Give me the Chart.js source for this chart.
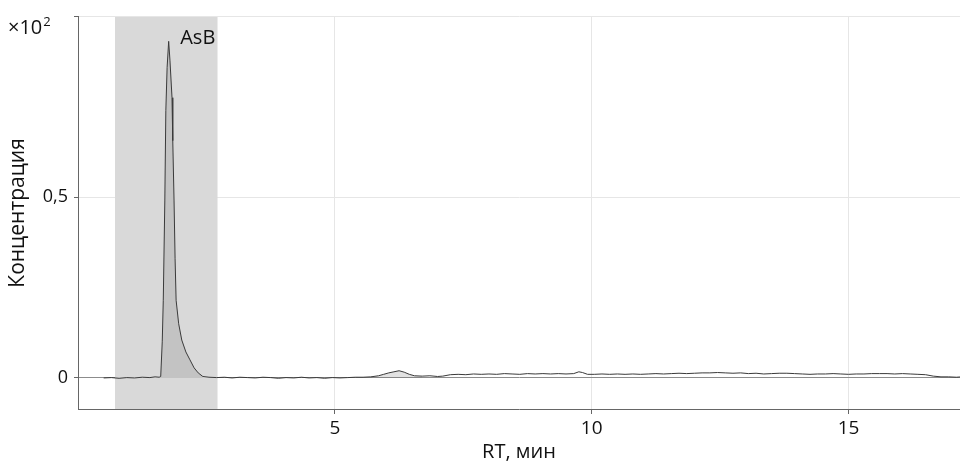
<!DOCTYPE html>
<html>
<head>
<meta charset="utf-8">
<script src="https://cdn.jsdelivr.net/npm/chart.js@4.4.1/dist/chart.umd.min.js"></script>
<style>
  html, body { margin: 0; padding: 0; background: #fff; }
  #wrap { width: 960px; height: 466px; }
</style>
</head>
<body>
<div id="wrap"><canvas id="chromChart"></canvas></div>
<script>
// retention time, min
const rtMin = [
  0.50, 0.65, 0.80, 0.95, 1.10, 1.25, 1.40, 1.50, 1.58, 1.61,
  1.64, 1.66, 1.69, 1.71, 1.735, 1.765, 1.79, 1.83, 1.845, 1.87,
  1.89, 1.91, 1.96, 2.02, 2.10, 2.18, 2.26, 2.34, 2.43, 2.55,
  2.70, 2.85, 3.00, 3.15, 3.30, 3.45, 3.60, 3.75, 3.90, 4.05,
  4.20, 4.35, 4.50, 4.65, 4.80, 4.95, 5.10, 5.25, 5.40, 5.55,
  5.70, 5.85, 5.95, 6.05, 6.15, 6.25, 6.35, 6.45, 6.55, 6.70,
  6.85, 7.00, 7.10, 7.25, 7.40, 7.55, 7.70, 7.85, 8.00, 8.15,
  8.30, 8.45, 8.60, 8.75, 8.90, 9.05, 9.20, 9.35, 9.50, 9.65,
  9.75, 9.82, 9.92, 10.05, 10.20, 10.35, 10.50, 10.65, 10.80, 10.95,
  11.10, 11.25, 11.40, 11.55, 11.70, 11.85, 12.00, 12.15, 12.30, 12.45,
  12.60, 12.75, 12.90, 13.05, 13.20, 13.35, 13.50, 13.65, 13.80, 13.95,
  14.10, 14.25, 14.40, 14.55, 14.70, 14.85, 15.00, 15.15, 15.30, 15.45,
  15.60, 15.75, 15.90, 16.05, 16.20, 16.35, 16.50, 16.65, 16.80, 16.95,
  17.10, 17.20
];
// concentration, x10^2
const conc = [
  0.000, 0.001, -0.001, 0.001, 0.000, 0.002, 0.001, 0.003, 0.002, 0.004,
  0.100, 0.215, 0.490, 0.740, 0.860, 0.932, 0.880, 0.776, 0.657, 0.490,
  0.330, 0.215, 0.150, 0.105, 0.072, 0.050, 0.028, 0.014, 0.004, 0.002,
  0.001, 0.002, 0.000, 0.002, 0.001, 0.000, 0.002, 0.001, -0.001, 0.001,
  0.000, 0.002, 0.000, 0.001, -0.001, 0.001, 0.000, 0.001, 0.002, 0.002,
  0.003, 0.006, 0.010, 0.014, 0.017, 0.020, 0.016, 0.010, 0.006, 0.005,
  0.006, 0.004, 0.005, 0.009, 0.010, 0.009, 0.011, 0.010, 0.011, 0.010,
  0.012, 0.011, 0.010, 0.012, 0.011, 0.012, 0.011, 0.012, 0.011, 0.012,
  0.017, 0.015, 0.010, 0.010, 0.011, 0.010, 0.011, 0.010, 0.011, 0.010,
  0.011, 0.012, 0.011, 0.012, 0.013, 0.012, 0.013, 0.014, 0.014, 0.015,
  0.014, 0.013, 0.014, 0.012, 0.013, 0.011, 0.012, 0.013, 0.013, 0.012,
  0.011, 0.010, 0.011, 0.011, 0.012, 0.011, 0.010, 0.011, 0.011, 0.012,
  0.012, 0.012, 0.011, 0.012, 0.011, 0.010, 0.009, 0.005, 0.003, 0.003,
  0.002, 0.003
];

// integrated peaks (start, end of filled area), min
const peakWindows = [[1.58, 2.45], [5.70, 6.70]];
// highlighted RT window, min
const shadeRange = [0.72, 2.72];
const peakNames = ["AsB"];
const peakNamePos = [[1.99, 0.925]];

const xTicks = [5, 10, 15];
const yTicks = [0, 0.5, 1];
const xMin = 0, xMax = 17.17;
const yMin = -0.086, yMax = 1.0;

const FONT = "'Open Sans', 'Noto Sans', sans-serif";

const trace = rtMin.map((t, i) => ({ x: t, y: conc[i] }));
const fills = peakWindows.map(([a, b]) => ({
  data: trace.filter(p => p.x >= a && p.x <= b).map(p => ({ ...p })),
  parsing: false,
  borderWidth: 0,
  pointRadius: 0,
  fill: "origin",
  backgroundColor: "rgba(110,110,110,0.2)",
  order: 2
}));

// ×10² and peak name labels
const labelsPlugin = {
  id: "chromLabels",
  afterDatasetsDraw(chart) {
    const { ctx, scales: { x, y } } = chart;
    ctx.save();
    ctx.fillStyle = "#111";
    ctx.textBaseline = "alphabetic";
    ctx.textAlign = "left";
    ctx.font = "20px " + FONT;
    peakNames.forEach((name, i) => {
      ctx.fillText(name, x.getPixelForValue(peakNamePos[i][0]), y.getPixelForValue(peakNamePos[i][1]));
    });
    ctx.font = "20px " + FONT;
    ctx.fillText("×10", 8, 34);
    const w = ctx.measureText("×10").width;
    ctx.font = "13px " + FONT;
    ctx.fillText("2", 8 + w + 1, 26);
    ctx.restore();
  }
};

new Chart(document.getElementById("chromChart"), {
  type: "line",
  data: {
    datasets: [
      {
        data: trace,
        parsing: false,
        borderColor: "#3a3a3a",
        borderWidth: 1,
        pointRadius: 0,
        tension: 0,
        fill: false,
        order: 1
      },
      ...fills,
      {
        data: shadeRange.map(t => ({ x: t, y: yMax })),
        parsing: false,
        borderWidth: 0,
        pointRadius: 0,
        fill: "start",
        backgroundColor: "#d9d9d9",
        order: 3
      }
    ]
  },
  options: {
    responsive: true,
    maintainAspectRatio: false,
    animation: false,
    layout: { padding: { top: 15, right: 0, left: 0, bottom: 0 } },
    plugins: { legend: { display: false }, tooltip: { enabled: false } },
    scales: {
      x: {
        type: "linear",
        min: xMin,
        max: xMax,
        afterBuildTicks: s => { s.ticks = xTicks.map(v => ({ value: v })); },
        afterFit: s => { s.height = 57; },
        grid: { color: "#e6e6e6", tickColor: "#666", tickLength: 5 },
        border: { color: "#666", width: 1 },
        ticks: { color: "#111", font: { family: FONT, size: 19 }, padding: 3, maxRotation: 0 },
        title: { display: true, text: "RT, мин", color: "#111", font: { family: FONT, size: 20 }, padding: { top: 0, bottom: 2 } }
      },
      y: {
        type: "linear",
        min: yMin,
        max: yMax,
        afterBuildTicks: s => { s.ticks = yTicks.map(v => ({ value: v })); },
        afterFit: s => { s.width = 78; },
        grid: {
          color: c => (c.tick && c.tick.value === 0 ? "#8c8c8c" : "#e6e6e6"),
          tickColor: "#666",
          tickLength: 4
        },
        border: { color: "#666", width: 1 },
        ticks: {
          color: "#111",
          font: { family: FONT, size: 18 },
          padding: 6,
          callback: v => (v === 1 ? "" : String(v).replace(".", ","))
        },
        title: { display: true, text: "Концентрация", color: "#111", font: { family: FONT, size: 21 }, padding: { top: 5, bottom: 0 } }
      }
    }
  },
  plugins: [labelsPlugin]
});
</script>
</body>
</html>
